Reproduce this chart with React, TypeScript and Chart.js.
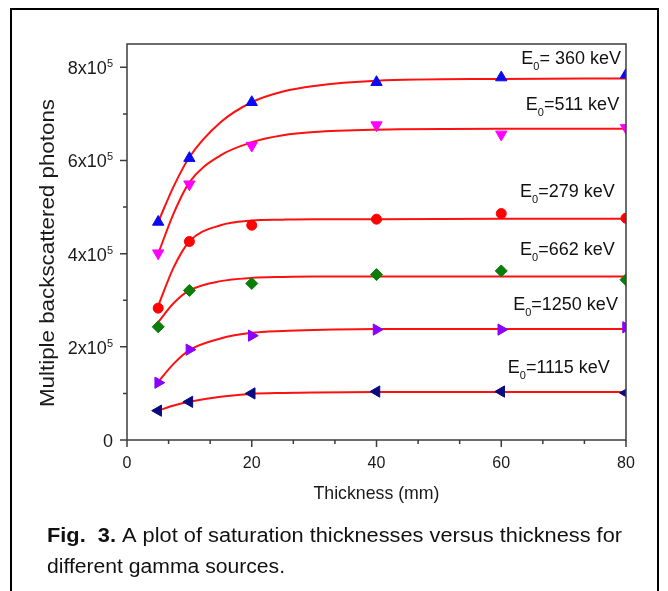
import React, { useEffect, useRef } from 'react';
import { Chart, registerables } from 'chart.js';

Chart.register(...registerables);

// ---------- data ----------
const thickness = [5, 10, 20, 40, 60, 80];

const points360 = [468000, 605000, 725000, 768000, 778000, 784000];
const points511 = [401000, 549000, 632000, 676000, 656000, 670000];
const points279 = [283000, 426000, 461000, 474000, 486000, 476000];
const points662 = [243000, 321000, 336000, 355000, 363000, 344000];
const points1250 = [123000, 194000, 224000, 237000, 237000, 242000];
const points1115 = [63000, 82000, 100000, 104000, 104000, 101000];

// fitted (saturation) curves
const fitThickness = [5, 7.5, 10, 15, 20, 25, 30, 40, 60, 80];
const fit360 = [468000, 545000, 607000, 682000, 725000, 748000, 760000, 771000, 775000, 776000];
const fit511 = [400000, 487000, 553000, 611000, 639000, 654000, 661000, 666000, 668000, 668000];
const fit279 = [288000, 371000, 426000, 461000, 471000, 473000, 474000, 474000, 475000, 475000];
const fit662 = [253000, 294000, 321000, 341000, 348000, 350000, 351000, 351000, 351000, 351000];
const fit1250 = [125000, 164000, 193000, 218000, 230000, 234000, 236000, 238000, 238000, 238000];
const fit1115 = [63000, 74000, 82000, 93000, 99000, 101000, 102000, 103000, 103000, 103000];

const sourceLabels = ['= 360 keV', '=511 keV', '=279 keV', '=662 keV', '=1250 keV', '=1115 keV'];

const xMajorTicks = [0, 20, 40, 60, 80];
const xMinorTicks = [6.667, 13.333, 26.667, 33.333, 46.667, 53.333, 66.667, 73.333];
const yMajorTicks = [0, 200000, 400000, 600000, 800000];
const yMajorLabels = ['0', '2x10', '4x10', '6x10', '8x10'];
const yExponent = '5';
const yMinorTicks = [100000, 300000, 500000, 700000];

const xTitle = 'Thickness (mm)';
const yTitle = 'Multiple backscattered photons';
const captionBold = 'Fig.  3.';
const captionLine1 = ' A plot of saturation thicknesses versus thickness for';
const captionLine2 = 'different gamma sources.';

// ---------- layout / style ----------
const W = 668;
const H = 591;
const FAMILY = '"Liberation Sans", Arial, Helvetica, sans-serif';
const font = (size: number, bold = false) => `${bold ? 'bold ' : ''}${size}px ${FAMILY}`;

// label anchors in data units (right edge x, baseline y)
const labelAnchorX = [79.2, 78.9, 78.2, 78.2, 78.7, 77.4];
const labelAnchorY = [806000, 708000, 522000, 397000, 279000, 144000];

const markerStyles = [
  { color: '#0a0af0', style: 'triangle', rotation: 0, radius: 6.5 },
  { color: '#ff00ff', style: 'triangle', rotation: 180, radius: 6.5 },
  { color: '#ff0000', style: 'circle', rotation: 0, radius: 5 },
  { color: '#0a7d0a', style: 'rectRot', rotation: 0, radius: 6 },
  { color: '#8a00ff', style: 'triangle', rotation: 90, radius: 6.5 },
  { color: '#0a0a80', style: 'triangle', rotation: 270, radius: 6.5 },
];

type Run = { text: string; font: string; dy?: number };

function drawRuns(
  ctx: CanvasRenderingContext2D,
  runs: Run[],
  x: number,
  y: number,
  align: 'left' | 'right' | 'center',
  width?: number
) {
  let total = 0;
  const widths = runs.map((r) => {
    ctx.font = r.font;
    const w = ctx.measureText(r.text).width;
    total += w;
    return w;
  });
  const s = width ? width / total : 1;
  const drawW = total * s;
  const start = align === 'left' ? x : align === 'right' ? x - drawW : x - drawW / 2;
  ctx.save();
  ctx.translate(start, y);
  ctx.scale(s, 1);
  ctx.textAlign = 'left';
  ctx.textBaseline = 'alphabetic';
  let cx = 0;
  runs.forEach((r, i) => {
    ctx.font = r.font;
    ctx.fillText(r.text, cx, r.dy || 0);
    cx += widths[i];
  });
  ctx.restore();
}

const decorPlugin = {
  id: 'decor',
  beforeDraw(chart: any) {
    const { ctx } = chart;
    ctx.save();
    ctx.fillStyle = '#ffffff';
    ctx.fillRect(0, 0, W, H);
    ctx.restore();
  },
  afterDraw(chart: any) {
    const { ctx, chartArea: ca, scales } = chart;
    const xs = scales.x;
    const ys = scales.y;
    ctx.save();

    // outer figure frame
    ctx.strokeStyle = '#000000';
    ctx.lineWidth = 2;
    ctx.beginPath();
    ctx.moveTo(11, H + 2);
    ctx.lineTo(11, 9);
    ctx.lineTo(658, 9);
    ctx.lineTo(658, H + 2);
    ctx.stroke();

    // plot frame
    ctx.strokeStyle = '#3c3c3c';
    ctx.lineWidth = 1.5;
    ctx.strokeRect(ca.left, ca.top, ca.right - ca.left, ca.bottom - ca.top);

    // ticks
    ctx.beginPath();
    xMajorTicks.forEach((v) => {
      const px = xs.getPixelForValue(v);
      ctx.moveTo(px, ca.bottom);
      ctx.lineTo(px, ca.bottom + 7);
    });
    xMinorTicks.forEach((v) => {
      const px = xs.getPixelForValue(v);
      ctx.moveTo(px, ca.bottom);
      ctx.lineTo(px, ca.bottom + 4);
    });
    yMajorTicks.forEach((v) => {
      const py = ys.getPixelForValue(v);
      ctx.moveTo(ca.left, py);
      ctx.lineTo(ca.left - 7, py);
    });
    yMinorTicks.forEach((v) => {
      const py = ys.getPixelForValue(v);
      ctx.moveTo(ca.left, py);
      ctx.lineTo(ca.left - 4, py);
    });
    ctx.stroke();

    ctx.fillStyle = '#1a1a1a';
    // x tick labels
    xMajorTicks.forEach((v) => {
      const px = xs.getPixelForValue(v);
      drawRuns(ctx, [{ text: String(v), font: font(16) }], px, ca.bottom + 28, 'center');
    });
    // y tick labels
    yMajorTicks.forEach((v, i) => {
      const py = ys.getPixelForValue(v);
      const runs: Run[] = [{ text: yMajorLabels[i], font: font(18) }];
      if (v !== 0) runs.push({ text: yExponent, font: font(11), dy: -7 });
      drawRuns(ctx, runs, ca.left - 14, py + 7, 'right');
    });

    // axis titles
    drawRuns(ctx, [{ text: xTitle, font: font(19) }], (ca.left + ca.right) / 2, 499, 'center', 126);
    ctx.save();
    ctx.translate(54, 253);
    ctx.rotate(-Math.PI / 2);
    drawRuns(ctx, [{ text: yTitle, font: font(20) }], 0, 0, 'center', 308);
    ctx.restore();

    // series labels
    ctx.fillStyle = '#111111';
    sourceLabels.forEach((t, i) => {
      const px = xs.getPixelForValue(labelAnchorX[i]);
      const py = ys.getPixelForValue(labelAnchorY[i]);
      drawRuns(
        ctx,
        [
          { text: 'E', font: font(18) },
          { text: '0', font: font(11), dy: 6 },
          { text: t, font: font(18) },
        ],
        px,
        py,
        'right'
      );
    });

    // caption
    ctx.fillStyle = '#111111';
    drawRuns(
      ctx,
      [
        { text: captionBold, font: font(20, true) },
        { text: captionLine1, font: font(20) },
      ],
      47,
      542,
      'left',
      575
    );
    drawRuns(ctx, [{ text: captionLine2, font: font(20) }], 47, 573, 'left', 238);

    ctx.restore();
  },
};

const pointSeries = [points360, points511, points279, points662, points1250, points1115];
const fitSeries = [fit360, fit511, fit279, fit662, fit1250, fit1115];

export default function App() {
  const canvasRef = useRef<HTMLCanvasElement | null>(null);

  useEffect(() => {
    const canvas = canvasRef.current;
    if (!canvas) return;

    const pointDatasets = pointSeries.map((series, i) => ({
      type: 'scatter' as const,
      label: 'E0' + sourceLabels[i],
      data: thickness.map((t, j) => ({ x: t, y: series[j] })),
      showLine: false,
      pointStyle: markerStyles[i].style,
      rotation: markerStyles[i].rotation,
      pointRadius: markerStyles[i].radius,
      pointBackgroundColor: markerStyles[i].color,
      pointBorderColor: markerStyles[i].color,
      pointBorderWidth: 1,
      clip: 0,
    }));

    const fitDatasets = fitSeries.map((series, i) => ({
      type: 'line' as const,
      label: 'fit ' + sourceLabels[i],
      data: fitThickness.map((t, j) => ({ x: t, y: series[j] })),
      borderColor: '#ff1010',
      borderWidth: 2,
      pointRadius: 0,
      cubicInterpolationMode: 'monotone' as const,
      fill: false,
      clip: 0,
    }));

    const chart = new Chart(canvas, {
      type: 'scatter',
      data: { datasets: [...pointDatasets, ...fitDatasets] as any },
      options: {
        animation: false,
        responsive: false,
        devicePixelRatio: 1,
        layout: { padding: { left: 127, right: 42, top: 44, bottom: 151 } },
        plugins: { legend: { display: false }, tooltip: { enabled: false }, title: { display: false } },
        scales: {
          x: { type: 'linear', display: false, min: 0, max: 80 },
          y: { type: 'linear', display: false, min: 0, max: 850000 },
        },
      },
      plugins: [decorPlugin],
    });

    return () => chart.destroy();
  }, []);

  return (
    <div style={{ position: 'absolute', left: 0, top: 0, width: W, height: H }}>
      <canvas ref={canvasRef} width={W} height={H} style={{ display: 'block', width: W, height: H }} />
    </div>
  );
}
